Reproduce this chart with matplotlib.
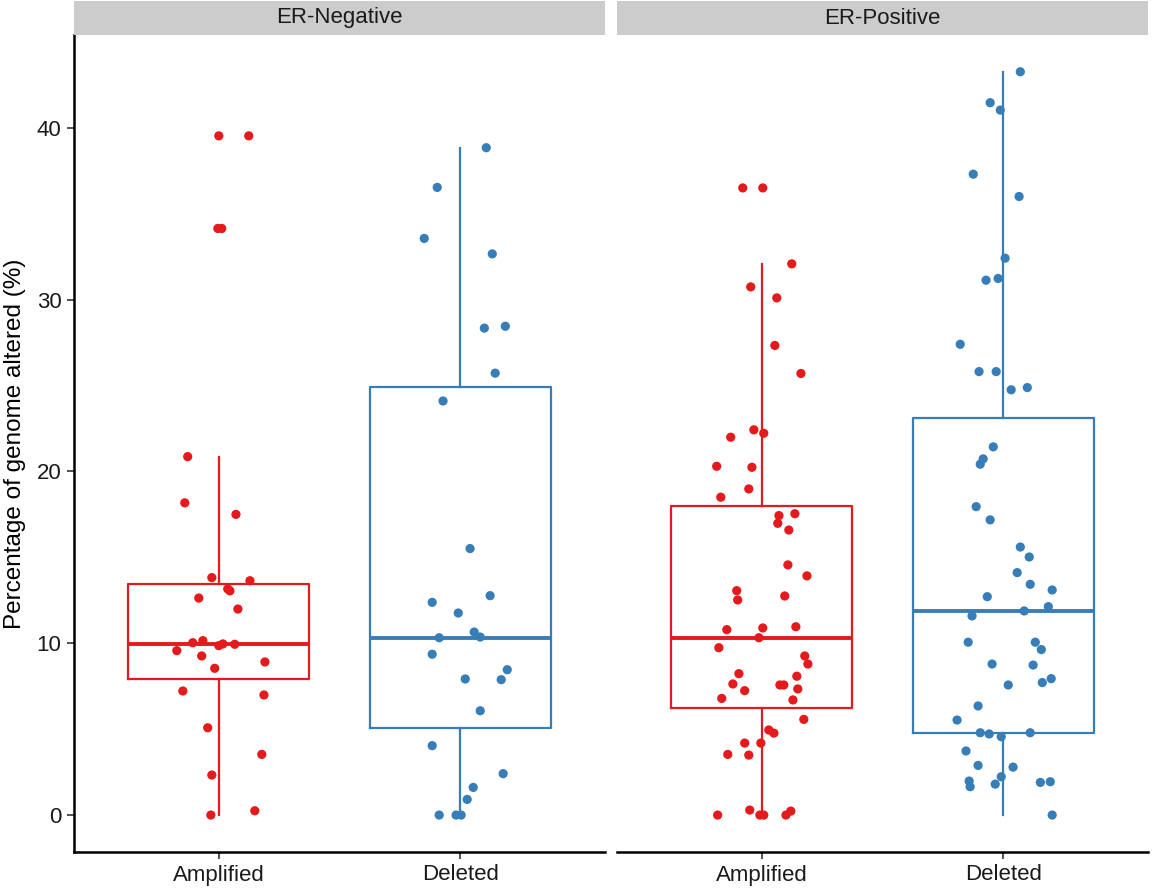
import matplotlib
matplotlib.use("Agg")
import matplotlib.pyplot as plt

plt.rcParams['font.family'] = ['Liberation Sans', 'DejaVu Sans']

panels = ["ER-Negative", "ER-Positive"]
groups = ["Amplified", "Deleted"]
colors = {"Amplified": "#E41A1C", "Deleted": "#377EB8"}

# box summaries: (lower whisker, q1, median, q3, upper whisker)
box_neg_amp = (0.0, 7.9, 9.96, 13.43, 20.86)
box_neg_del = (0.0, 5.08, 10.32, 24.9, 38.8)
box_pos_amp = (0.0, 6.21, 10.32, 18.01, 32.08)
box_pos_del = (0.0, 4.79, 11.88, 23.1, 43.22)

# percentage of genome altered per sample, with its horizontal jitter
neg_amp = [39.53, 39.53, 34.14, 34.14, 20.86, 18.17, 17.5, 13.82, 13.64, 13.16,
           13.05, 12.63, 11.99, 10.15, 10.03, 9.96, 9.94, 9.86, 9.57, 9.26,
           8.54, 8.91, 7.22, 6.99, 5.08, 3.53, 2.33, 0.0, 0.25]
neg_amp_jit = [0.0, 0.124, -0.004, 0.012, -0.129, -0.141, 0.071, -0.029, 0.129, 0.037,
               0.046, -0.083, 0.079, -0.066, -0.108, 0.017, 0.066, 0.0, -0.174, -0.071,
               -0.017, 0.191, -0.149, 0.187, -0.046, 0.178, -0.029, -0.033, 0.149]

neg_del = [38.84, 36.53, 33.56, 32.66, 28.34, 28.45, 25.72, 24.1, 15.51, 12.77,
           12.38, 11.76, 10.65, 10.36, 10.32, 9.36, 8.46, 7.92, 7.88, 6.07,
           4.04, 2.41, 1.61, 0.91, 0.0, 0.0, 0.0]
neg_del_jit = [0.108, -0.095, -0.149, 0.133, 0.100, 0.187, 0.145, -0.071, 0.041, 0.124,
               -0.116, -0.008, 0.058, 0.083, -0.087, -0.116, 0.195, 0.021, 0.170, 0.083,
               -0.116, 0.178, 0.054, 0.029, -0.087, -0.017, 0.004]

pos_amp = [36.5, 36.5, 32.08, 30.74, 30.1, 27.33, 25.7, 22.42, 22.22, 21.99,
           20.3, 20.24, 18.98, 18.5, 17.43, 17.54, 16.98, 16.59, 14.56, 13.92,
           13.06, 12.52, 12.75, 10.79, 10.89, 10.96, 10.32, 9.74, 9.26, 8.79,
           8.23, 8.08, 7.63, 7.24, 7.57, 7.57, 7.34, 6.79, 6.70, 5.57,
           4.95, 4.77, 4.19, 4.19, 3.53, 3.49, 0.0, 0.29, 0.0, 0.0,
           0.0, 0.23]
pos_amp_jit = [-0.079, 0.004, 0.124, -0.046, 0.062, 0.054, 0.162, -0.033, 0.008, -0.129,
               -0.187, -0.041, -0.054, -0.170, 0.071, 0.137, 0.066, 0.112, 0.108, 0.187,
               -0.104, -0.100, 0.095, -0.145, 0.004, 0.141, -0.012, -0.178, 0.178, 0.191,
               -0.095, 0.145, -0.120, -0.071, 0.075, 0.091, 0.149, -0.166, 0.129, 0.174,
               0.029, 0.050, -0.071, -0.004, -0.141, -0.054, -0.183, -0.050, -0.008, 0.008,
               0.100, 0.120]

pos_del = [43.26, 41.46, 41.03, 37.3, 36.0, 32.41, 31.13, 31.23, 27.4, 25.81,
           25.81, 24.75, 24.88, 21.43, 20.73, 20.42, 17.95, 17.18, 15.6, 15.02,
           14.11, 13.43, 13.1, 12.71, 12.13, 11.88, 11.59, 10.06, 10.06, 9.63,
           8.79, 8.73, 7.94, 7.71, 7.57, 6.35, 5.53, 4.79, 4.72, 4.56,
           4.79, 3.73, 2.89, 2.79, 2.23, 1.98, 1.65, 1.80, 1.90, 1.94,
           0.0]
pos_del_jit = [0.071, -0.054, -0.012, -0.124, 0.066, 0.008, -0.071, -0.021, -0.178, -0.100,
               -0.029, 0.033, 0.100, -0.041, -0.083, -0.095, -0.112, -0.054, 0.071, 0.108,
               0.058, 0.112, 0.203, -0.066, 0.187, 0.087, -0.129, -0.145, 0.133, 0.158,
               -0.046, 0.124, 0.199, 0.162, 0.021, -0.104, -0.191, -0.095, -0.058, -0.008,
               0.112, -0.154, -0.104, 0.041, -0.008, -0.141, -0.137, -0.033, 0.154, 0.195,
               0.203]

data = {
    "ER-Negative": {"Amplified": (box_neg_amp, neg_amp, neg_amp_jit),
                    "Deleted": (box_neg_del, neg_del, neg_del_jit)},
    "ER-Positive": {"Amplified": (box_pos_amp, pos_amp, pos_amp_jit),
                    "Deleted": (box_pos_del, pos_del, pos_del_jit)},
}

W, H = 1152, 890
fig = plt.figure(figsize=(W / 100, H / 100), dpi=100)

panel_left = [74, 617]
panel_w = 531
top, bottom = 35, 852
strip_top = 1

for i, panel in enumerate(panels):
    x0 = panel_left[i]
    ax = fig.add_axes([x0 / W, (H - bottom) / H, panel_w / W, (bottom - top) / H])
    sax = fig.add_axes([x0 / W, (H - top) / H, panel_w / W, (top - strip_top) / H])
    sax.set_facecolor("#CCCCCC")
    sax.set_xticks([])
    sax.set_yticks([])
    for s in sax.spines.values():
        s.set_visible(False)
    sax.text(0.5, 0.5, panel, ha="center", va="center", fontsize=16,
             color="#1A1A1A", transform=sax.transAxes)

    for j, grp in enumerate(groups):
        stats, vals, jit = data[panel][grp]
        lo, q1, med, q3, hi = stats
        col = colors[grp]
        pos = j + 1
        ax.bxp([dict(whislo=lo, q1=q1, med=med, q3=q3, whishi=hi, fliers=[])],
               positions=[pos], widths=0.75, showfliers=False, showcaps=False,
               patch_artist=False,
               boxprops=dict(color=col, linewidth=1.6),
               whiskerprops=dict(color=col, linewidth=1.6),
               medianprops=dict(color=col, linewidth=2.8, solid_capstyle="butt"))
        ax.scatter([pos + d for d in jit], vals, s=44, color=col,
                   edgecolors="none", zorder=3)

    ax.set_xlim(0.4, 2.6)
    ax.set_ylim(-2.15, 45.4)
    ax.set_xticks([1, 2])
    ax.set_xticklabels(groups, fontsize=16, color="#1A1A1A")
    ax.set_yticks([0, 10, 20, 30, 40])
    ax.tick_params(axis="both", length=5, width=1.2, color="#333333", pad=4)
    ax.spines["top"].set_visible(False)
    ax.spines["right"].set_visible(False)
    ax.spines["bottom"].set_linewidth(1.8)
    ax.spines["left"].set_linewidth(1.8)
    if i == 0:
        ax.set_yticklabels(["0", "10", "20", "30", "40"], fontsize=16, color="#1A1A1A")
        ax.set_ylabel("Percentage of genome altered (%)", fontsize=17.5, labelpad=8)
    else:
        ax.spines["left"].set_visible(False)
        ax.tick_params(axis="y", left=False, labelleft=False)

fig.savefig("out.png", dpi=100)
